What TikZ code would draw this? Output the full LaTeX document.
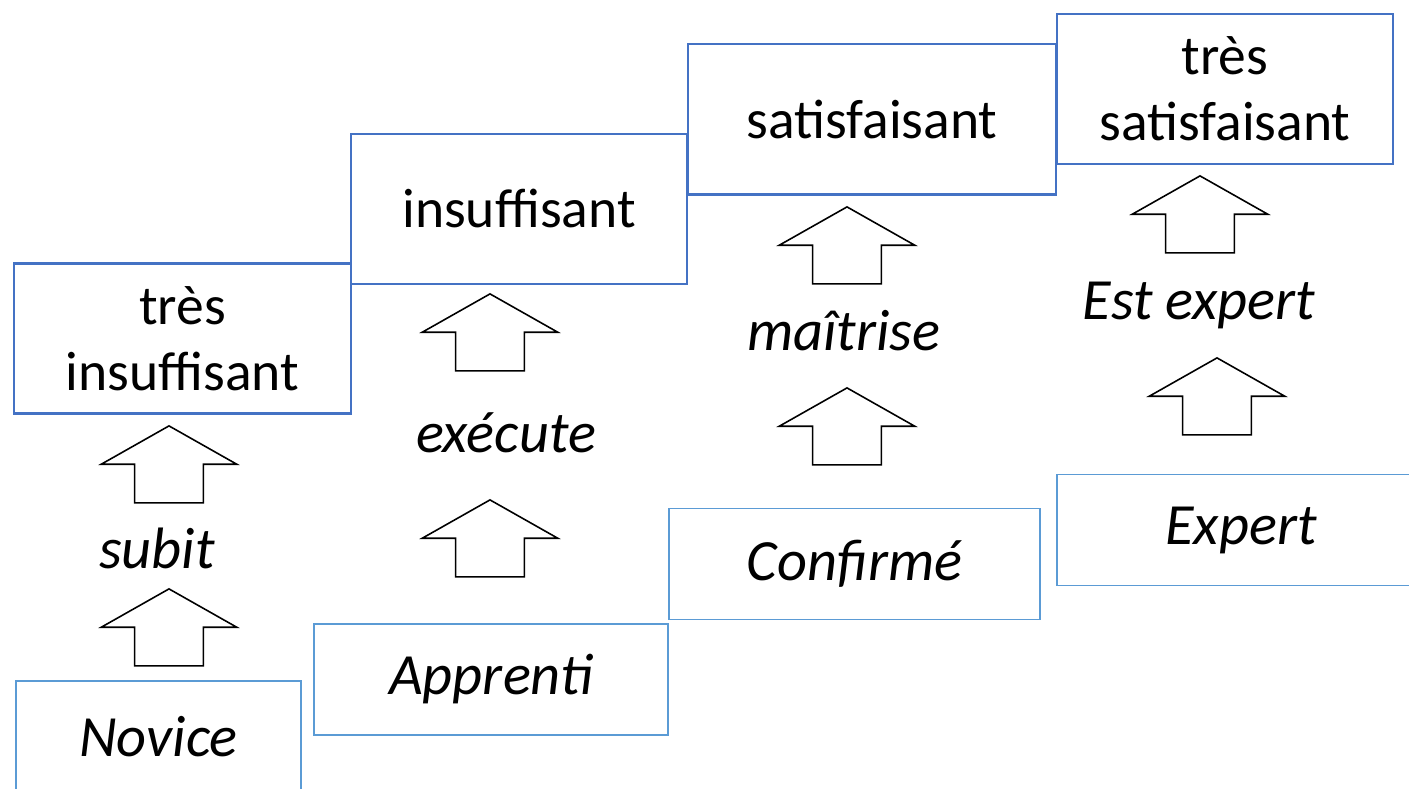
\documentclass[tikz,border=0pt]{standalone}
\usepackage{fontspec}
\setmainfont{Carlito}
\usetikzlibrary{shapes.arrows}
\definecolor{gradeblue}{HTML}{4472C4}
\definecolor{levelblue}{HTML}{5B9BD5}
\newcommand{\bigtxt}{\fontsize{15.8pt}{18.8pt}\selectfont}
\newcommand{\bigital}{\fontsize{16.6pt}{19pt}\selectfont\itshape}
\begin{document}
\begin{tikzpicture}[x=0.01cm,y=-0.01cm,
  grade/.style={draw=gradeblue,line width=0.6pt,minimum width=3.36cm,minimum height=1.5cm,inner sep=0pt,align=center,font=\bigtxt},
  level/.style={draw=levelblue,line width=0.45pt,minimum height=1.11cm,inner sep=0pt,font=\bigital},
  actlabel/.style={inner sep=0pt,font=\bigital},
  blockup/.style={single arrow,draw=black,line width=0.45pt,rotate=90,anchor=tip,
    inner xsep=0pt,inner ysep=0.335cm,single arrow head extend=0.335cm,
    single arrow tip angle=121,minimum height=0.77cm}]
\useasboundingbox (0,0) rectangle (1409,789);
\clip (0,0) rectangle (1409,789);
\node[grade] (tinsuf) at (182.5,338.5) {très\\insuffisant};
\node[grade] (insuf) at (519,209) {insuffisant};
\node[grade,minimum width=3.68cm] (satis) at (872,119.5) {satisfaisant};
\node[grade] (tsatis) at (1225,89) {très\\satisfaisant};
\node[level,minimum width=2.85cm] (novice) at (158.5,736.5) {Novice};
\node[level,minimum width=3.54cm] (apprenti) at (491,679.5) {Apprenti};
\node[level,minimum width=3.71cm] (confirme) at (854.5,564) {Confirmé};
\node[level,minimum width=3.68cm] (expert) at (1241,530) {Expert};
\node[actlabel] (subit) at (157,548) {subit};
\node[actlabel] (execute) at (506,433) {exécute};
\node[actlabel] (maitrise) at (844,331) {maîtrise};
\node[actlabel] (estexpert) at (1199,305) {Est expert};
\node[blockup] (up1a) at (169,588) {};
\node[blockup] (up1b) at (169,425) {};
\node[blockup] (up2a) at (490,499) {};
\node[blockup] (up2b) at (490,293) {};
\node[blockup] (up3a) at (847,387) {};
\node[blockup] (up3b) at (847,206) {};
\node[blockup] (up4a) at (1217,357) {};
\node[blockup] (up4b) at (1200,175) {};
\end{tikzpicture}
\end{document}
